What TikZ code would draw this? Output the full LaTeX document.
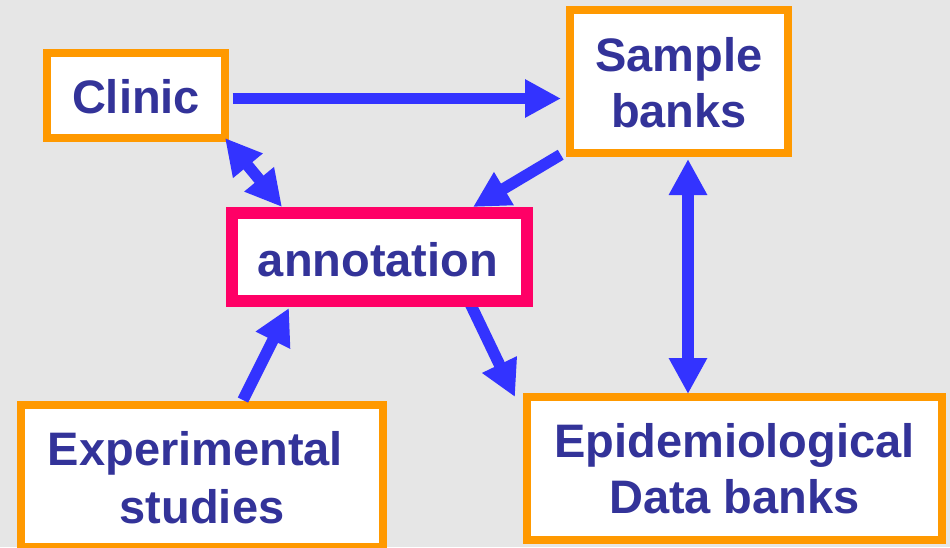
\documentclass[tikz,border=0pt]{standalone}
\usepackage{fontspec}
\setmainfont{Liberation Sans}
\usetikzlibrary{arrows.meta,calc}
\pgfdeclarelayer{back}
\pgfdeclarelayer{mid}
\pgfsetlayers{back,mid,main}
\definecolor{bgc}{HTML}{E6E6E6}
\definecolor{orng}{HTML}{FF9900}
\definecolor{pnk}{HTML}{FF0066}
\definecolor{txtc}{HTML}{333399}
\definecolor{arw}{HTML}{3333FF}
\begin{document}
\begin{tikzpicture}[x=1pt,y=-1pt,
 box/.style={rectangle, draw=orng, line width=8pt, fill=white, inner sep=0pt},
 abox/.style={rectangle, draw=pnk, line width=12pt, fill=white, inner sep=0pt},
 txt/.style={text=txtc, font=\fontsize{47}{56}\selectfont\bfseries, inner sep=0pt, align=center, anchor=base},
 conn/.style={draw=arw, line width=11.5pt, -{Triangle[length=36pt,width=36pt]}},
 dconn/.style={draw=arw, line width=11.5pt, {Triangle[length=36pt,width=36pt]}-{Triangle[length=36pt,width=36pt]}},
]
\begin{pgfonlayer}{back}
\fill[bgc] (0,0) rectangle (950,547);
\end{pgfonlayer}
\useasboundingbox (0,0) rectangle (950,547);

\node[box, minimum width=178pt, minimum height=85pt] (clinic) at (136,95.5) {};
\node[box, minimum width=218pt, minimum height=143pt] (sample) at (679,81.5) {};
\node[abox, minimum width=295pt, minimum height=88pt] (annot) at (379.5,257) {};
\node[box, minimum width=362pt, minimum height=142pt] (exper) at (202,476) {};
\node[box, minimum width=415pt, minimum height=143pt] (epi) at (734.5,468.5) {};

\node[txt] (clinict) at ($(clinic.center)+(0,17.5)$) {Clinic};
\node[txt] (samplet) at ($(sample.center)+(0,45.5)$) {Sample\\banks};
\node[txt] (annott) at ($(annot.center)+(-1.5,19)$) {annotation};
\node[txt] (expert) at ($(exper.center)+(0,47)$) {Experimental\hspace*{0.278em}\\[2pt]studies};
\node[txt] (epit) at ($(epi.center)+(0,44.5)$) {Epidemiological\\Data banks};

\draw[conn] ($(clinic.east)+(3.7,3)$) -- ($(sample.west)+(-5,17)$);
\draw[dconn] ($(clinic.south east)+(-4,-4)$) -- ($(annot.north west)+(56,0)$);
\draw[conn] ($(sample.south west)+(-5.3,-2.3)$) -- ($(annot.north east)+(-60,0)$);
\draw[dconn] ($(sample.south)+(9,2)$) -- ($(epi.north)+(-46.5,1)$);
\draw[conn] ($(exper.north west)+(226,-1)$) -- ($(annot.south west)+(63,1)$);
\begin{pgfonlayer}{mid}
\draw[conn] ($(annot.south)+(89,-7)$) -- ($(epi.north west)+(-8,4)$);
\end{pgfonlayer}
\end{tikzpicture}
\end{document}
